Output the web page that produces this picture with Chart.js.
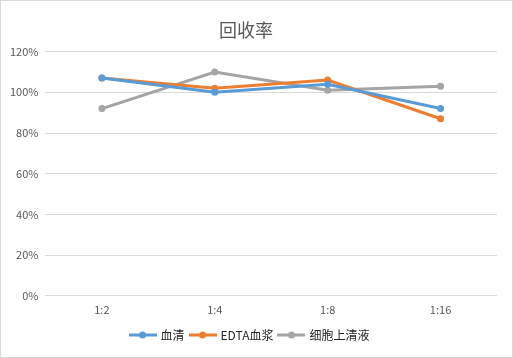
<!DOCTYPE html>
<html><head><meta charset="utf-8">
<script src="https://cdn.jsdelivr.net/npm/chart.js@4"></script>
<style>
html,body{margin:0;padding:0;background:#fff;}
#wrap{position:absolute;left:0;top:0;width:513px;height:358px;box-sizing:border-box;border:1px solid #d9d9d9;}
canvas{display:block;}
</style></head><body>
<div id="wrap"><canvas id="c" width="511" height="356"></canvas></div>
<script>
const categories = ['1:2','1:4','1:8','1:16'];
const serum = [107, 100, 104, 92];
const edtaPlasma = [107, 102, 106, 87];
const cellSupernatant = [92, 110, 101, 103];
const seriesNames = ['血清','EDTA血浆','细胞上清液'];
const yTicks = [0,20,40,60,80,100,120];
const colors = ['#5B9BD5','#ED7D31','#A5A5A5'];

function legendIcon(color){
  const cv = document.createElement('canvas');
  cv.width = 28; cv.height = 8;
  const g = cv.getContext('2d');
  g.strokeStyle = color; g.lineWidth = 3;
  g.beginPath(); g.moveTo(0,4); g.lineTo(28,4); g.stroke();
  g.fillStyle = color; g.beginPath(); g.arc(14,4,3.5,0,Math.PI*2); g.fill();
  return cv;
}
const icons = colors.map(legendIcon);
const font = "'Noto Sans CJK SC','Noto Sans',sans-serif";
const data = [serum, edtaPlasma, cellSupernatant];

new Chart(document.getElementById('c'), {
  type: 'line',
  data: {
    labels: categories,
    datasets: data.map((d,i)=>({
      label: seriesNames[i], data: d,
      borderColor: colors[i], backgroundColor: colors[i],
      borderWidth: 3, pointRadius: 3.5, pointHoverRadius: 3.5,
      pointBorderWidth: 0, tension: 0, pointStyle: 'circle'
    }))
  },
  options: {
    responsive: false, animation: false,
    layout: {padding: {left: 2, right: 15, top: 10, bottom: 6}},
    plugins: {
      title: {display: true, text: '回收率  ', color: '#595959',
        font: {family: font, size: 18, weight: 'normal'}, padding: {top: 8, bottom: 11}},
      legend: {position: 'bottom',
        labels: {color: '#595959', font: {family: font, size: 12}, usePointStyle: true,
          pointStyleWidth: 24, boxHeight: 8, padding: 6,
          generateLabels: (chart) => chart.data.datasets.map((ds,i)=>({
            text: ds.label, pointStyle: icons[i], fillStyle: colors[i], strokeStyle: colors[i],
            lineWidth: 0, datasetIndex: i, hidden: false, fontColor: '#262626'
          }))}},
      tooltip: {enabled: false}
    },
    scales: {
      x: {offset: true, grid: {display: false, drawTicks: false}, border: {display: false},
        ticks: {color: '#595959', font: {family: font, size: 11}, padding: 7}},
      y: {min: 0, max: 120, afterBuildTicks: (s)=>{ s.ticks = yTicks.map(v=>({value:v})); },
        grid: {color: '#d9d9d9', drawTicks: false}, border: {display: false},
        ticks: {color: '#595959', font: {family: font, size: 11}, padding: 7,
          callback: v => v + '%'}}
    }
  }
});
</script></body></html>
